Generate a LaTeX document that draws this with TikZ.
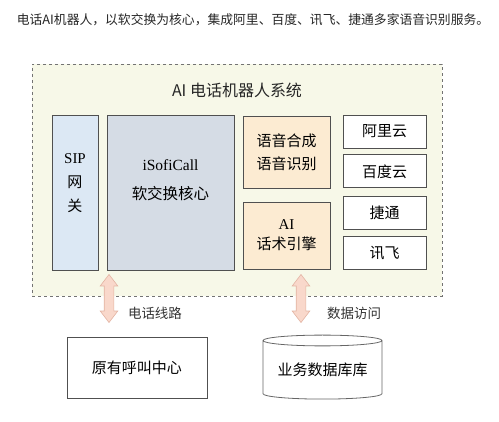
\documentclass[tikz,border=0pt]{standalone}
\usepackage{fontspec}
\setmainfont{Liberation Serif}
\newfontfamily\cjk{Noto Sans CJK SC}
\usetikzlibrary{positioning,shapes.geometric,shapes.arrows}

\definecolor{sysfill}{HTML}{F7F8E8}
\definecolor{sipfill}{HTML}{DCE8F4}
\definecolor{corefill}{HTML}{D5DCE5}
\definecolor{peach}{HTML}{FCEBD2}
\definecolor{arrowfill}{HTML}{F9D8CB}
\definecolor{arrowline}{HTML}{E3B4A3}
\definecolor{boxline}{HTML}{505050}

\begin{document}
\begin{tikzpicture}[x=1pt, y=-1pt,
  box/.style={rectangle, draw=boxline, line width=0.8pt, inner sep=0pt,
    align=center, font=\fontsize{15}{23}\selectfont\cjk},
  vendor/.style={box, fill=white, minimum width=83pt, minimum height=33pt},
  fatarrow/.style={double arrow, rotate=90, draw=arrowline, fill=arrowfill,
    line width=0.6pt, inner xsep=0pt, inner ysep=4.5pt, minimum height=48pt,
    double arrow head extend=4pt, double arrow tip angle=75},
  linklabel/.style={font=\fontsize{13.5}{16}\selectfont\cjk, text=black!80},
  node distance=6pt,
]
  \useasboundingbox (0,0) rectangle (499,422);

  % Caption
  \node[font=\fontsize{12.8}{15}\selectfont\cjk, text=black!85] (caption) at (253,20)
    {电话AI机器人，以软交换为核心，集成阿里、百度、讯飞、捷通多家语音识别服务。};

  % System frame
  \node[rectangle, draw=black!55, dashed, fill=sysfill, line width=0.7pt,
    minimum width=410pt, minimum height=232pt, inner sep=0pt] (system) at (237,180) {};
  \node[font=\fontsize{16}{19}\selectfont\cjk, text=black!85] (title) at (237,90) {AI 电话机器人系统};

  % Modules
  \node[box, fill=sipfill, minimum width=46pt, minimum height=155pt] (sip) at (75,192.5) {};
  \node[box, draw=none, font=\fontsize{15}{24}\selectfont] (siplabel) at (75,183)
    {SIP\\{\cjk 网}\\{\cjk 关}};
  \node[box, fill=corefill, minimum width=127pt, minimum height=155pt] (core) at (170.5,192.5) {};
  \node[box, draw=none, font=\fontsize{15.5}{29}\selectfont] (corelabel) at (170.5,180)
    {iSofiCall\\{\cjk 软交换核心}};
  \node[box, fill=peach, minimum width=87pt, minimum height=72pt] (speech) at (286.5,152)
    {语音合成\\语音识别};
  \node[box, fill=peach, minimum width=87pt, minimum height=67pt] (engine) at (286.5,235.5)
    {{\rmfamily AI}\\[-3pt]话术引擎};

  % Speech vendors
  \node[vendor] (aliyun) at (384.5,131.5) {阿里云};
  \node[vendor, below=of aliyun] (baidu) {百度云};
  \node[vendor, below=8pt of baidu] (jietong) {捷通};
  \node[vendor, below=of jietong] (xunfei) {讯飞};

  % Outside the system
  \node[box, line width=0.9pt, minimum width=140pt, minimum height=61pt] (callcenter) at (137,367.5)
    {原有呼叫中心};
  \node[cylinder, shape border rotate=90, draw=black!60, line width=0.8pt, aspect=0.12,
    minimum width=119pt, minimum height=64pt, inner sep=0pt,
    font=\fontsize{15}{18}\selectfont\cjk] (bizdb) at (322.5,370) {\raisebox{-7pt}{业务数据库库}};

  % Links
  \node[fatarrow] (phonelink) at (109,298.5) {};
  \node[fatarrow] (datalink) at (301,298.5) {};
  \node[linklabel] (phonelabel) at (155,313) {电话线路};
  \node[linklabel] (datalabel) at (354,313) {数据访问};
\end{tikzpicture}
\end{document}
